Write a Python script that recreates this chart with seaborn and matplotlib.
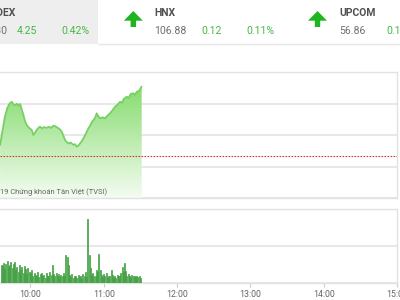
import numpy as np
import pandas as pd
import matplotlib
matplotlib.use("Agg")
import matplotlib.pyplot as plt
from matplotlib.patches import Polygon, Rectangle
from matplotlib.lines import Line2D
import seaborn as sns

# ---------------- data ----------------
# price trace: minutes after 09:00 and VN-Index value
price_minutes = [35.2, 37, 39, 41, 43, 44.8, 46, 47.5, 49, 50.2, 51.6, 53, 54.3, 55.5, 57, 59,
                 61.1, 62.4, 63.8, 65.2, 66.5, 67.9, 69.5, 71, 73.4, 75, 77, 78.8, 80.5, 82.9,
                 84.3, 85.7, 87, 88.4, 89.8, 91.1, 93, 95.2, 96.5, 98, 99.3, 100.7, 102, 103.4,
                 105.5, 107.5, 109, 110.5, 111.6, 113, 114.3, 115.5, 117, 119, 121.1, 123, 125.2,
                 127, 129.3, 131, 133.4, 135, 136.5, 138.9, 140.5, 142, 144.3, 145.5, 147.1, 149,
                 150, 151.1]
price_values = [1012.37, 1013.2, 1014.1, 1014.7, 1015.0, 1015.11, 1014.95, 1014.90, 1014.98,
                1014.86, 1014.97, 1014.6, 1014.27, 1013.9, 1013.63, 1013.45, 1013.32, 1013.0,
                1013.15, 1013.32, 1013.45, 1013.53, 1013.42, 1013.5, 1013.46, 1013.52, 1013.45,
                1013.59, 1013.55, 1013.43, 1013.35, 1013.21, 1012.95, 1012.68, 1012.55, 1012.47,
                1012.52, 1012.37, 1012.42, 1012.26, 1012.33, 1012.47, 1012.6, 1012.79, 1013.1,
                1013.43, 1013.6, 1013.85, 1013.95, 1014.1, 1014.38, 1014.2, 1014.06, 1014.12,
                1014.06, 1014.22, 1014.38, 1014.55, 1014.80, 1014.9, 1015.11, 1015.05, 1015.3,
                1015.43, 1015.35, 1015.6, 1015.65, 1015.55, 1015.75, 1015.8, 1015.95, 1016.07]
reference_value = 1011.69

# volume: one bar per minute from 09:36 to 11:30 (millions)
volume_start_minute = 36
volume_values = [0.50, 0.45, 0.55, 0.38, 0.52, 0.60, 0.42, 0.48, 0.58, 0.40, 0.52, 0.56, 0.35,
                 0.44, 0.30, 0.48, 0.36, 0.42, 0.28, 0.46, 0.38, 0.24, 0.40, 0.30, 0.26, 0.34,
                 0.20, 0.28, 0.22, 0.18, 0.30, 0.16, 0.24, 0.28, 0.20, 0.22, 0.14, 0.26, 0.18,
                 0.20, 0.30, 0.22, 0.48, 0.25, 0.18, 0.26, 0.20, 0.24, 0.16, 0.22, 0.18, 0.28,
                 0.20, 0.76, 0.70, 0.48, 0.22, 0.16, 0.24, 0.14, 0.20, 0.18, 0.14, 0.22, 0.16,
                 0.20, 0.12, 0.24, 0.18, 0.30, 0.16, 1.73, 0.76, 0.40, 0.22, 0.28, 0.18, 0.20,
                 0.36, 0.30, 0.78, 0.36, 0.22, 0.16, 0.24, 0.18, 0.28, 0.14, 0.20, 0.18, 0.35,
                 0.22, 0.16, 0.20, 0.14, 0.22, 0.18, 0.20, 0.26, 0.42, 0.30, 0.54, 0.32, 0.18,
                 0.24, 0.20, 0.16, 0.22, 0.18, 0.20, 0.15, 0.19, 0.16, 0.18, 0.14]

tick_hours = [10, 11, 12, 13, 14, 15]
tick_labels = ["10:00", "11:00", "12:00", "13:00", "14:00", "15:00"]

# header entries
header_names = ["VN-INDEX", "HNX", "UPCOM"]
header_values = ["1016.30", "106.88", "56.86"]
header_changes = ["4.25", "0.12", "0.16"]
header_percents = ["0.42%", "0.11%", "0.29%"]

credit_prefix = "© 20"
credit_text = "19 Chứng khoán Tân Việt (TVSI)"

# ---------------- style ----------------
sns.set_theme(style="white")
plt.rcParams["font.family"] = ["Roboto", "DejaVu Sans"]

W, H = 400, 300
fig = plt.figure(figsize=(4, 3), dpi=100)
fig.patch.set_facecolor("white")

def fx(px):
    return px / W

def fy(py):
    return (H - py) / H

GREEN_TXT = "#47b847"
GREY_TXT = "#707070"
DARK_TXT = "#505050"
ARROW_GREEN = "#1fb51f"

# header background
fig.patches.append(Rectangle((fx(0), fy(43.5)), fx(97.5), 43.5 / H,
                             transform=fig.transFigure, facecolor="#eeeeee",
                             edgecolor="none", zorder=0))
fig.lines.append(Line2D([fx(97.5), 1], [fy(44), fy(44)], transform=fig.transFigure,
                        color="#e6e6e6", lw=1))

def arrow(cx):
    pts = [(cx, 11), (cx + 9.5, 20.7), (cx + 2.7, 20.7), (cx + 2.7, 27),
           (cx - 2.7, 27), (cx - 2.7, 20.7), (cx - 9.5, 20.7)]
    fig.patches.append(Polygon([(fx(x), fy(y)) for x, y in pts], closed=True,
                               transform=fig.transFigure, facecolor=ARROW_GREEN,
                               edgecolor="none"))

arrow(133.3)
arrow(317.5)

name_x = [-30.7, 154.3, 339.3]
for i in range(3):
    x0 = name_x[i]
    fig.text(fx(x0), fy(13), header_names[i], fontsize=7.5, fontweight="bold",
             color=DARK_TXT, va="center", ha="left")
    fig.text(fx(x0), fy(31.5), header_values[i], fontsize=7.6, color=GREY_TXT,
             va="center", ha="left")
    fig.text(fx(x0 + 47.4), fy(31.5), header_changes[i], fontsize=7.6, color=GREEN_TXT,
             va="center", ha="left")
    fig.text(fx(x0 + 120.2), fy(31.5), header_percents[i], fontsize=7.6, color=GREEN_TXT,
             va="center", ha="right")

# ---------------- axes ----------------
px_per_hour = 73.3
x_left = 10 - 30.4 / px_per_hour
x_right = x_left + 397 / px_per_hour

ax = fig.add_axes([0, fy(198), 397 / W, (198 - 72) / H])
axv = fig.add_axes([0, fy(283), 397 / W, (283 - 209) / H])

price_df = pd.DataFrame({"hour": 9 + np.array(price_minutes) / 60.0, "value": price_values})
vol_minutes = volume_start_minute + np.arange(len(volume_values))
vol_df = pd.DataFrame({"hour": 9 + vol_minutes / 60.0, "volume": volume_values})

ymin, ymax = 1009, 1017
# gradient area fill clipped under the line
poly = ax.fill_between(price_df["hour"], price_df["value"], ymin, facecolor="none",
                       edgecolor="none")
top_c = np.array([134, 220, 110]) / 255
bot_c = np.array([244, 252, 242]) / 255
t = np.linspace(0, 1, 256)[:, None]
grad = top_c * (1 - t) + bot_c * t
grad = grad[:, None, :]
vmax = max(price_values)
img = ax.imshow(grad, extent=[price_df["hour"].min(), price_df["hour"].max(), ymin, vmax],
                aspect="auto", origin="upper", zorder=1)
paths = poly.get_paths()
img.set_clip_path(paths[0], transform=ax.transData)

sns.lineplot(data=price_df, x="hour", y="value", ax=ax, color="#78d064", linewidth=1.3,
             zorder=3)
ax.axhline(reference_value, color="#cc3a3a", lw=0.8, ls=(0, (1.5, 1.2)), zorder=4)

ax.set_xlim(x_left, x_right)
ax.set_ylim(ymin, ymax)
ax.set_yticks([1009, 1011, 1013, 1015, 1017])
ax.set_xticks([])
ax.grid(axis="y", color="#e8e8e8", lw=1.5)
ax.set_axisbelow(True)
ax.set_yticklabels([])
ax.tick_params(left=False, bottom=False)
ax.set_xlabel("")
ax.set_ylabel("")
for s in ax.spines.values():
    s.set_color("#e2e2e2")
    s.set_linewidth(1)
ax.spines["left"].set_visible(False)

# credit line (its start is cropped at the left edge, as in the reference)
fig.text(fx(0), fy(192), credit_prefix, fontsize=5.4, color="#666666", ha="right",
         va="center", zorder=5)
fig.text(fx(0.5), fy(192), credit_text, fontsize=5.4, color="#666666", ha="left",
         va="center", zorder=5)

# volume bars
axv.bar(vol_df["hour"], vol_df["volume"], width=0.8 / 60, color="#76c976",
        edgecolor="#3a983a", linewidth=0.5, zorder=3)
axv.set_xlim(x_left, x_right)
axv.set_ylim(0, 2)
axv.set_yticks([0, 1, 2])
axv.set_yticklabels([])
axv.grid(axis="y", color="#e8e8e8", lw=1.5)
axv.set_axisbelow(True)
axv.set_xticks(tick_hours)
axv.set_xticklabels(tick_labels)
axv.tick_params(axis="x", direction="out", length=3, width=0.8, color="#cccccc",
                labelsize=6.3, labelcolor="#666666", pad=2, bottom=True)
axv.tick_params(axis="y", left=False)
for s in axv.spines.values():
    s.set_color("#e2e2e2")
    s.set_linewidth(1)
axv.spines["left"].set_visible(False)

fig.savefig("out.png", dpi=100)
